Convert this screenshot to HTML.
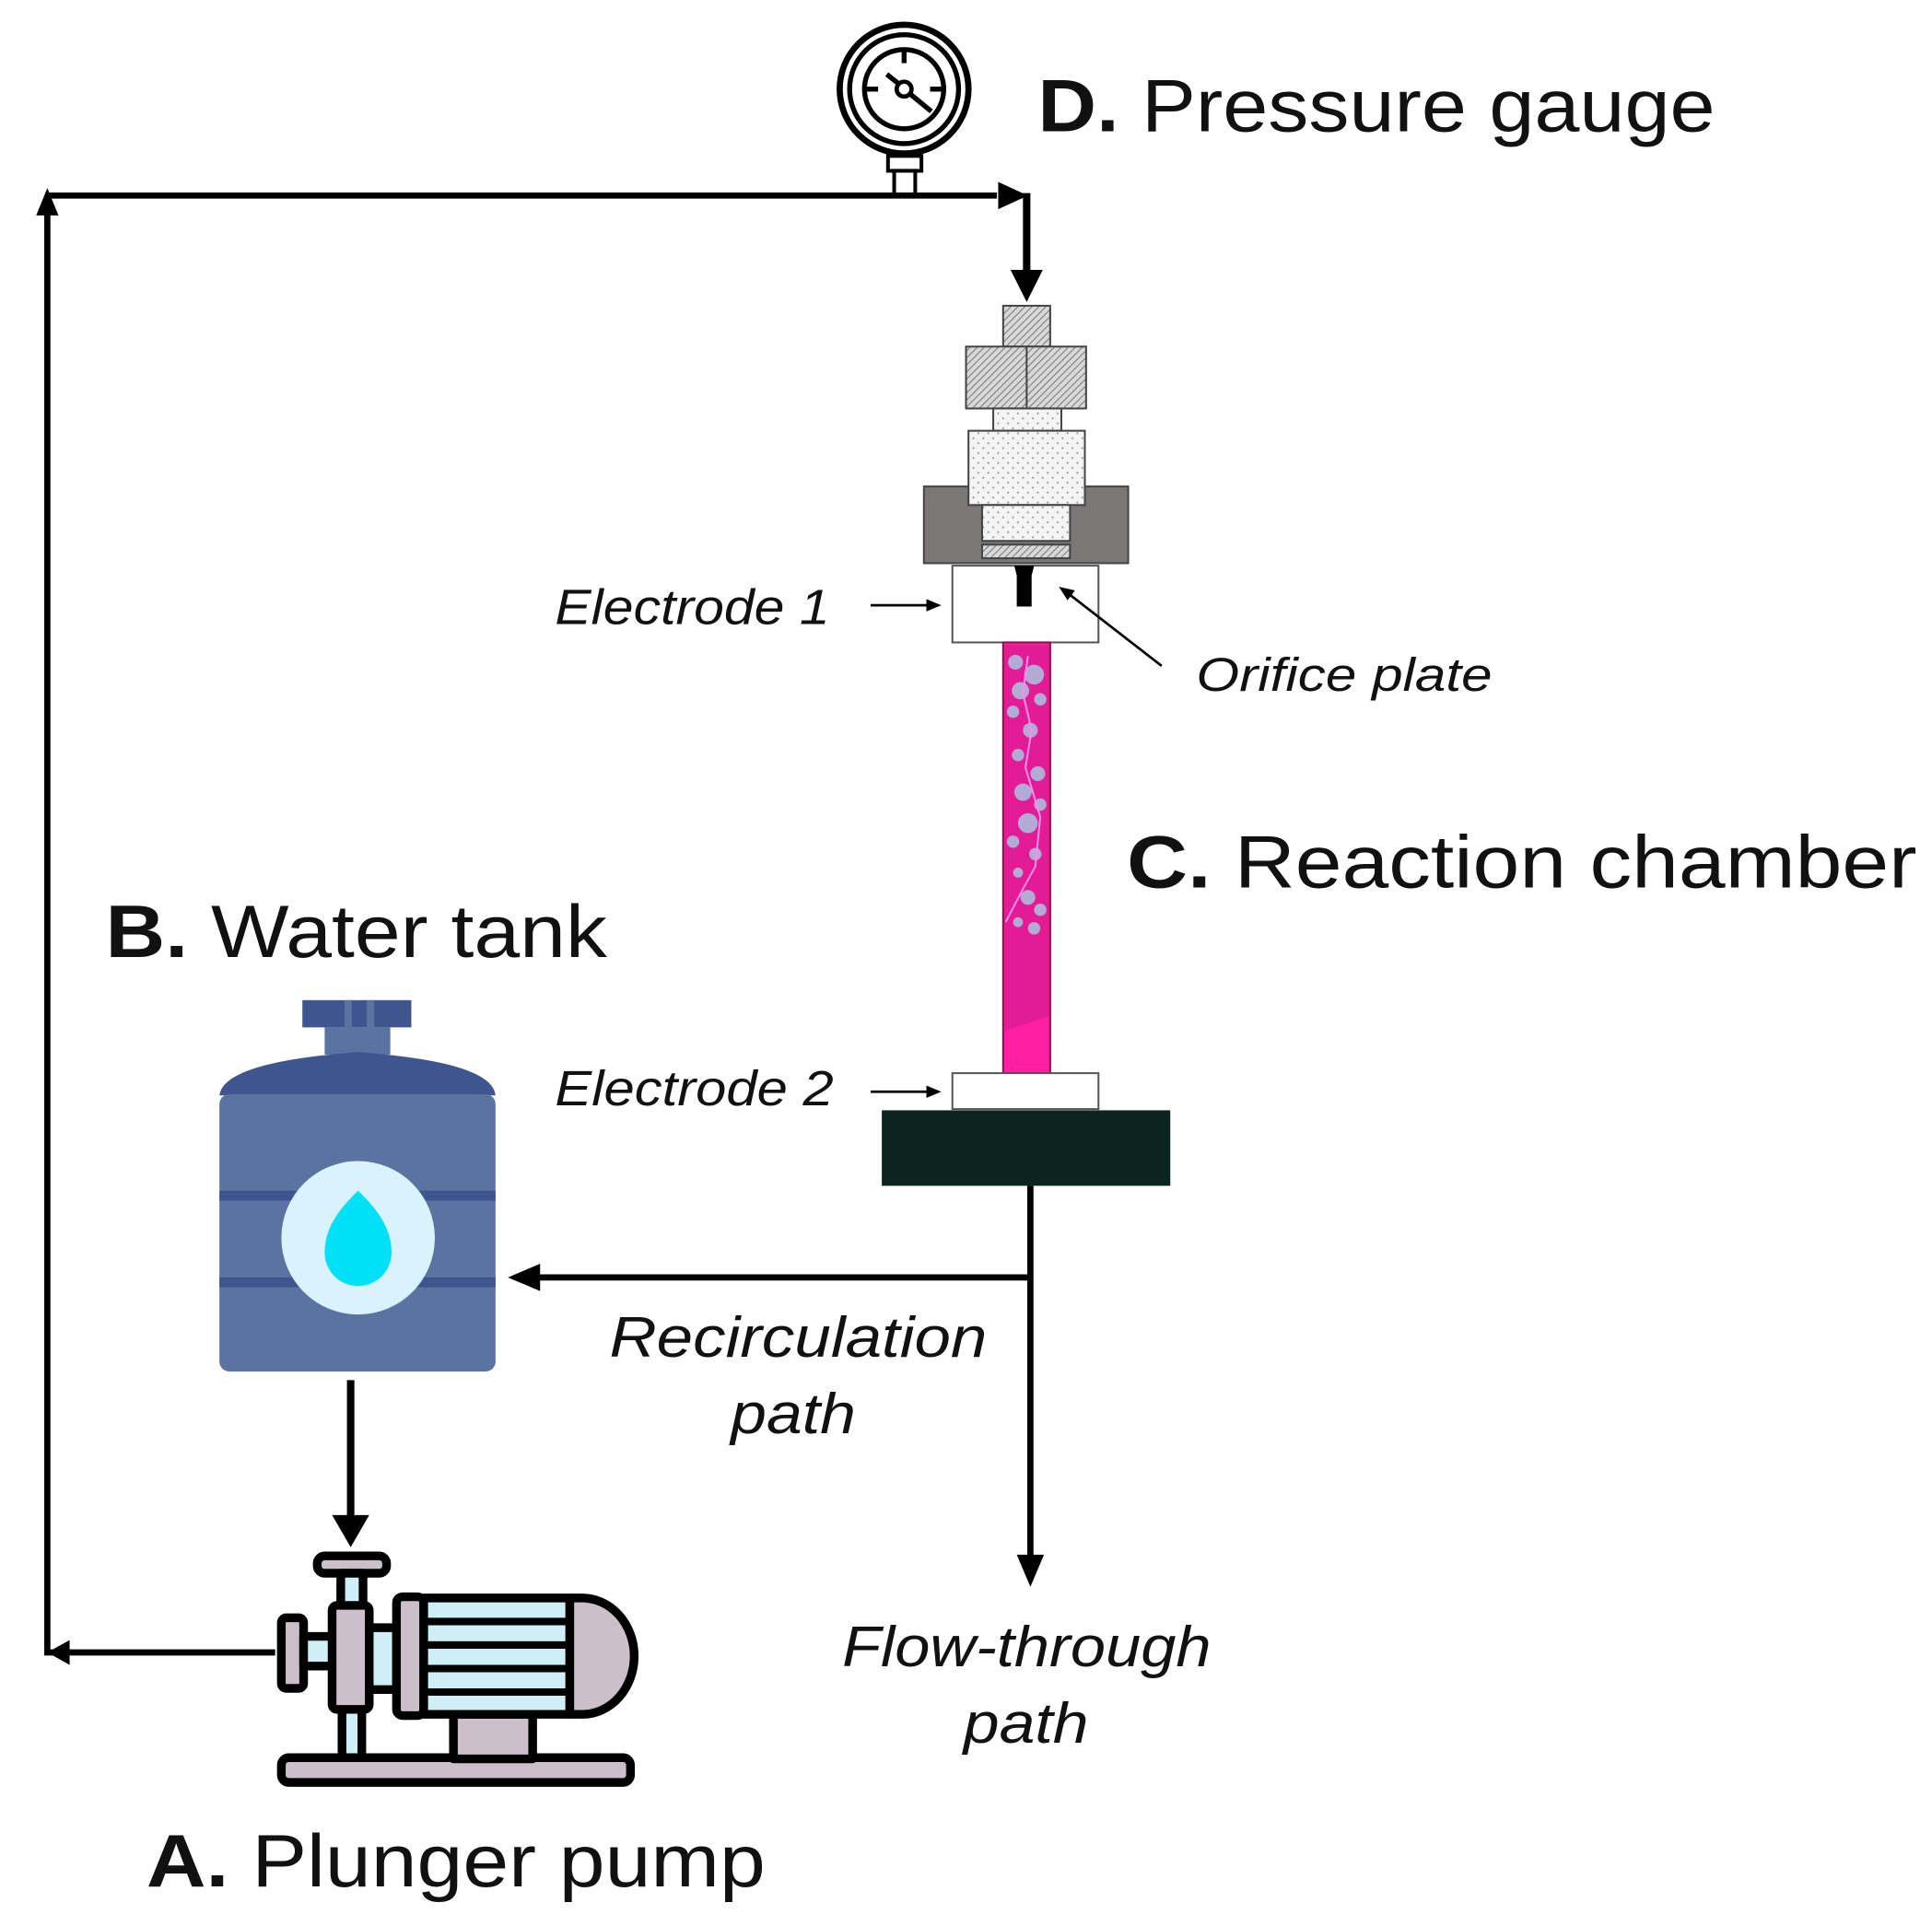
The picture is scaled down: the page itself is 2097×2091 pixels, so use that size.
<!DOCTYPE html>
<html><head><meta charset="utf-8"><style>
html,body{margin:0;padding:0;background:#fff}
svg{display:block}
text{font-family:"Liberation Sans",sans-serif;fill:#111}
.it{font-style:italic}
</style></head><body>
<svg width="2097" height="2091" viewBox="0 0 1560 1556" xmlns="http://www.w3.org/2000/svg">
<defs>
<pattern id="hatch" width="4" height="4" patternUnits="userSpaceOnUse" patternTransform="rotate(45)"><rect width="4" height="4" fill="#d8d8d8"/><line x1="0" y1="0" x2="0" y2="4" stroke="#777" stroke-width="1.5"/></pattern>
<pattern id="dots" width="8" height="8" patternUnits="userSpaceOnUse"><rect width="8" height="8" fill="#f4f4f4"/><circle cx="2" cy="2" r="0.8" fill="#999"/><circle cx="6" cy="6" r="0.8" fill="#999"/></pattern>
</defs>

<polyline points="222,1335 38,1335 38,158" fill="none" stroke="#000" stroke-width="5"/>
<path d="M38,1335 l18,-10 v20z" fill="#000"/>
<path d="M38,152 l-9,22 h18z" fill="#000"/>
<line x1="38" y1="158" x2="805" y2="158" stroke="#000" stroke-width="5"/>
<path d="M830,158 l-24,-11 v22z" fill="#000"/>
<line x1="829" y1="156" x2="829" y2="220" stroke="#000" stroke-width="6"/>
<path d="M829,244 l-13,-26 h26z" fill="#000"/>

<!-- gauge -->
<circle cx="730" cy="72" r="52" fill="#fff" stroke="#000" stroke-width="5"/>
<circle cx="730" cy="72" r="44" fill="none" stroke="#000" stroke-width="4"/>
<circle cx="730" cy="72" r="32" fill="none" stroke="#000" stroke-width="4"/>
<circle cx="730" cy="72" r="6" fill="#fff" stroke="#000" stroke-width="3.5"/>
<line x1="735" y1="76" x2="752" y2="90" stroke="#000" stroke-width="4"/>
<line x1="726" y1="68" x2="716" y2="60" stroke="#000" stroke-width="4"/>
<line x1="730" y1="42" x2="730" y2="51" stroke="#000" stroke-width="4"/>
<line x1="700" y1="72" x2="709" y2="72" stroke="#000" stroke-width="4"/>
<line x1="751" y1="72" x2="760" y2="72" stroke="#000" stroke-width="4"/>
<rect x="717" y="126" width="27" height="12" fill="#fff" stroke="#000" stroke-width="3"/>
<rect x="722" y="138" width="17" height="19" fill="#fff" stroke="#000" stroke-width="3"/>

<text x="838" y="106" font-size="60" textLength="547" lengthAdjust="spacingAndGlyphs"><tspan font-weight="bold">D.</tspan> Pressure gauge</text>

<!-- fitting -->
<rect x="810" y="247" width="38" height="33" fill="url(#hatch)" stroke="#444" stroke-width="1.5"/>
<rect x="780" y="280" width="97" height="50" fill="url(#hatch)" stroke="#444" stroke-width="1.5"/>
<line x1="829" y1="280" x2="829" y2="330" stroke="#444" stroke-width="1.5"/>
<rect x="802" y="330" width="55" height="18" fill="url(#dots)" stroke="#444" stroke-width="1.5"/>
<rect x="746" y="393" width="165" height="62" fill="#7a7776" stroke="#444" stroke-width="1.5"/>
<rect x="782" y="348" width="94" height="60" fill="url(#dots)" stroke="#444" stroke-width="1.5"/>
<rect x="793" y="408" width="71" height="29" fill="url(#dots)" stroke="#444" stroke-width="1.5"/>
<rect x="793" y="440" width="71" height="11" fill="url(#hatch)" stroke="#444" stroke-width="1.5"/>
<rect x="769" y="457" width="118" height="62" fill="#fff" stroke="#555" stroke-width="1.5"/>
<path d="M819,457 h16 l-2,8 v25 h-12 v-25z" fill="#000"/>

<!-- tube -->
<rect x="810" y="519" width="38" height="348" fill="#ff1fa3" stroke="#8a1050" stroke-width="1.5"/>
<path d="M811,521 h36 v300 l-36,12z" fill="#c81a8a" opacity="0.5"/>
<g fill="#a9c4e0" opacity="0.85">
<circle cx="820" cy="535" r="6"/><circle cx="835" cy="545" r="8"/><circle cx="824" cy="558" r="7"/><circle cx="840" cy="565" r="5"/><circle cx="818" cy="575" r="5"/><circle cx="832" cy="590" r="6"/><circle cx="822" cy="610" r="5"/><circle cx="838" cy="625" r="6"/><circle cx="826" cy="640" r="7"/><circle cx="840" cy="650" r="5"/><circle cx="830" cy="665" r="8"/><circle cx="818" cy="680" r="5"/><circle cx="836" cy="690" r="5"/><circle cx="822" cy="705" r="4"/><circle cx="830" cy="725" r="6"/><circle cx="840" cy="735" r="5"/><circle cx="822" cy="745" r="4"/><circle cx="835" cy="750" r="5"/>
</g>
<polyline points="830,530 826,560 833,590 828,620 840,660 836,700 825,720 812,745" fill="none" stroke="#ff8cf0" stroke-width="1.5"/>

<rect x="769" y="867" width="118" height="29" fill="#fff" stroke="#555" stroke-width="1.5"/>
<rect x="712" y="897" width="233" height="61" fill="#0b2420"/>

<line x1="832" y1="958" x2="832" y2="1258" stroke="#000" stroke-width="5"/>
<path d="M832,1282 l-11,-26 h22z" fill="#000"/>
<line x1="832" y1="1032" x2="432" y2="1032" stroke="#000" stroke-width="5"/>
<path d="M410,1032 l26,-11 v22z" fill="#000"/>

<!-- tank -->
<rect x="244" y="808" width="88" height="22" fill="#3f558f"/>
<rect x="262" y="830" width="53" height="22" fill="#5a73a0"/>
<rect x="278" y="808" width="6" height="22" fill="#5a73a0"/><rect x="296" y="808" width="6" height="22" fill="#5a73a0"/>
<path d="M177,885 Q180,858 289,850 Q398,858 400,885z" fill="#3f558f"/>
<rect x="177" y="884" width="223" height="224" rx="8" fill="#5a73a0"/>
<rect x="177" y="962" width="223" height="8" fill="#3f558f"/>
<rect x="177" y="1032" width="223" height="8" fill="#3f558f"/>
<circle cx="289" cy="1000" r="62" fill="#d9f2fb"/>
<path d="M289,962 C270,980 262,995 262,1012 a27,27 0 0 0 54,0 C316,995 308,980 289,962z" fill="#00e1f7"/>
<line x1="283" y1="1115" x2="283" y2="1228" stroke="#000" stroke-width="6"/>
<path d="M283,1250 l-15,-26 h30z" fill="#000"/>

<!-- pump -->
<g stroke="#000" stroke-width="7" stroke-linejoin="round">
<rect x="227" y="1420" width="282" height="20" rx="6" fill="#cbbfc9"/>
<rect x="366" y="1385" width="64" height="36" fill="#cbbfc9"/>
<rect x="256" y="1257" width="56" height="14" rx="6" fill="#cbbfc9"/>
<rect x="275" y="1271" width="18" height="30" fill="#cfeff7"/>
<rect x="276" y="1380" width="16" height="40" fill="#cfeff7"/>
<rect x="227" y="1307" width="18" height="57" rx="4" fill="#cbbfc9"/>
<rect x="245" y="1322" width="24" height="24" fill="#cfeff7"/>
<rect x="268" y="1297" width="30" height="84" rx="4" fill="#cbbfc9"/>
<rect x="298" y="1315" width="22" height="50" fill="#cfeff7"/>
<rect x="320" y="1290" width="22" height="96" rx="5" fill="#cbbfc9"/>
<rect x="342" y="1291" width="118" height="94" fill="#cfeff7"/>
<path d="M460,1291 h10 a42,47 0 0 1 0,94 h-10z" fill="#cbbfc9"/>
</g>
<g stroke="#000" stroke-width="6">
<line x1="342" y1="1310" x2="460" y2="1310"/><line x1="342" y1="1329" x2="460" y2="1329"/><line x1="342" y1="1348" x2="460" y2="1348"/><line x1="342" y1="1367" x2="460" y2="1367"/>
</g>

<!-- labels -->
<text x="85" y="773" font-size="60" textLength="405" lengthAdjust="spacingAndGlyphs"><tspan font-weight="bold">B.</tspan> Water tank</text>
<text x="910" y="717" font-size="60" textLength="638" lengthAdjust="spacingAndGlyphs"><tspan font-weight="bold">C.</tspan> Reaction chamber</text>
<text x="118" y="1524" font-size="60" textLength="500" lengthAdjust="spacingAndGlyphs"><tspan font-weight="bold">A.</tspan> Plunger pump</text>

<text class="it" x="448" y="504" font-size="40" textLength="222" lengthAdjust="spacingAndGlyphs">Electrode 1</text>
<line x1="703" y1="489" x2="752" y2="489" stroke="#000" stroke-width="2"/>
<path d="M760,489 l-12,-5 v10z" fill="#000"/>
<text class="it" x="448" y="893" font-size="40" textLength="225" lengthAdjust="spacingAndGlyphs">Electrode 2</text>
<line x1="703" y1="882" x2="752" y2="882" stroke="#000" stroke-width="2"/>
<path d="M760,882 l-12,-5 v10z" fill="#000"/>
<text class="it" x="966" y="558" font-size="38" textLength="239" lengthAdjust="spacingAndGlyphs">Orifice plate</text>
<line x1="938" y1="538" x2="862" y2="479" stroke="#000" stroke-width="2"/>
<path d="M855,474 l13,3 -6,8z" fill="#000"/>

<text class="it" x="492" y="1096" font-size="46" textLength="305" lengthAdjust="spacingAndGlyphs">Recirculation</text>
<text class="it" x="590" y="1158" font-size="46" textLength="101" lengthAdjust="spacingAndGlyphs">path</text>
<text class="it" x="680" y="1346" font-size="46" textLength="298" lengthAdjust="spacingAndGlyphs">Flow-through</text>
<text class="it" x="778" y="1408" font-size="46" textLength="101" lengthAdjust="spacingAndGlyphs">path</text>
</svg>
</body></html>
